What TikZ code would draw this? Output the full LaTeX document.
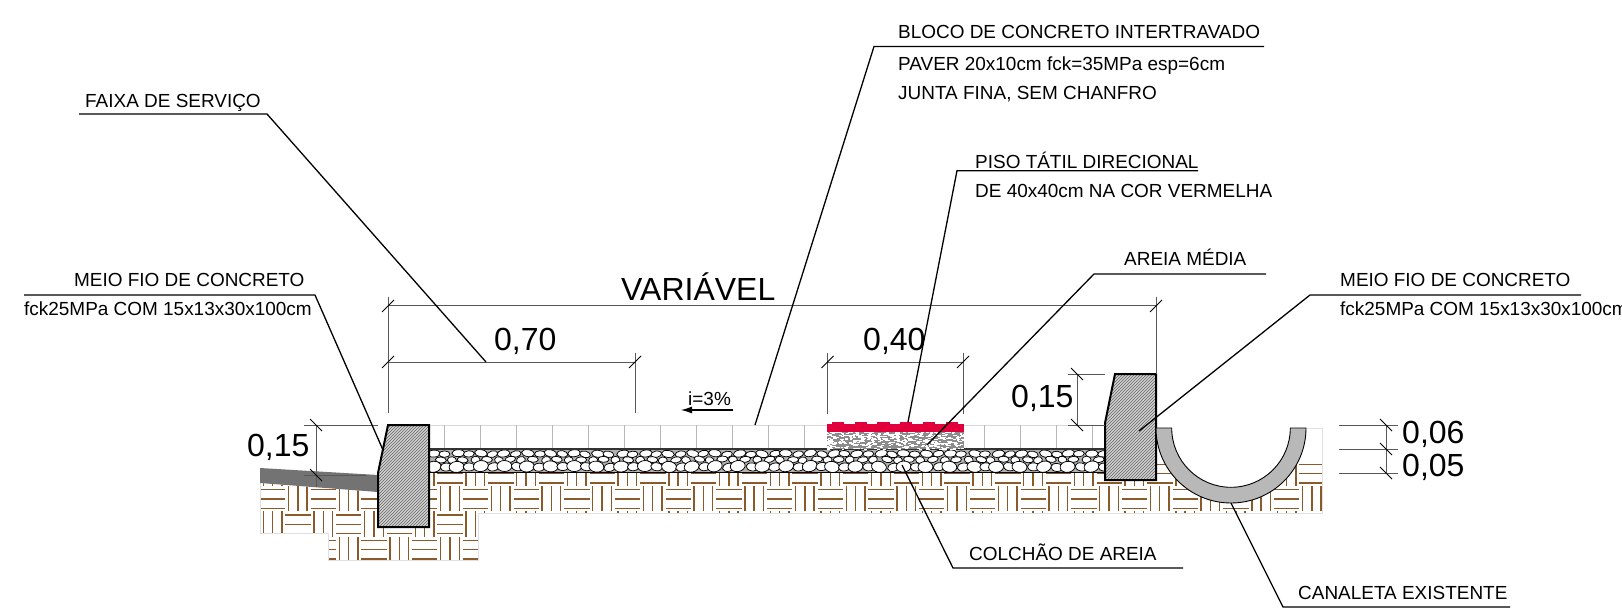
\documentclass[tikz,border=0pt]{standalone}
\usepackage{fontspec}
\setmainfont{Liberation Sans}
\usetikzlibrary{patterns,arrows.meta}
\definecolor{soilbrown}{RGB}{139,90,43}
\definecolor{tactilered}{RGB}{226,0,60}
\tikzset{
  label/.style = {anchor=base west,inner sep=0pt,font=\fontsize{18.95}{20}\selectfont},
  dimtext/.style = {anchor=base west,inner sep=0pt,font=\fontsize{32}{33}\selectfont},
  leader/.style = {line width=1.3pt,black},
  dimline/.style = {line width=1pt,black!65},
  kerb/.style = {draw=black,line width=2pt,pattern=north east lines,pattern color=black!60},
}
\begin{document}
\begin{tikzpicture}[x=1pt,y=-1pt]
  \pgfmathsetmacro{\unit}{25.35};
  \useasboundingbox (0,0) rectangle (1622,612);
  % soil
  \begin{scope}
    \clip (260,483) -- (378,492) -- (429,473) -- (1105,473) -- (1156,450) -- (1156,428) -- (1322,428) -- (1322,513) -- (478,513) -- (478,560) -- (328,560) -- (328,533) -- (260,533) -- cycle;
    \foreach \i in {0,...,42} {%
      \foreach \j in {-1,...,3} {%
        \pgfmathsetmacro{\ux}{260+\i*\unit}
        \pgfmathsetmacro{\uy}{486+\j*\unit}
        \pgfmathparse{int(mod(\i+\j+10,2))}
        \ifnum\pgfmathresult=0
          \foreach \k in {3.6,13,22.2} {%
            \draw[soilbrown,line width=1.4pt] (\ux,\uy+\k) -- ++(\unit,0);
          }
        \else
          \foreach \k in {3.2,12.5,21.8} {%
            \draw[soilbrown,line width=1.4pt] (\ux+\k,\uy) -- ++(0,\unit);
          }
        \fi
      }
    }
  \end{scope}
  \draw[black!12,line width=0.8pt] (260,483) -- (260,533) -- (328,533) -- (328,560) -- (478,560) -- (478,513) -- (1322,513) -- (1322,428) -- (1306,428);
  % road
  \fill[black!55] (260,468) -- (378,475) -- (378,492) -- (260,483) -- cycle;
  % pavers
  \draw[black!15,line width=0.8pt] (429,425) -- (1105,425);
  \foreach \m in {0,...,18} {%
    \draw[black!28,line width=0.8pt] ({444+36*\m},425) -- ++(0,23);
  }
  % pebbles
  \begin{scope}
    \clip (429,449) rectangle (1105,472);
    \fill[black!30] (429,449) rectangle (1105,472);
    \pgfmathsetseed{7}
    \foreach \m in {0,...,28} {%
      \pgfmathsetmacro{\px}{429+\m*23.5}
      \foreach \dx/\dy/\rx/\ry in {5/4.5/6.5/3.5,16/5/5.5/3.2,11/10.5/5.5/3,22/11/4.5/3.5,4/17.5/7.5/5.5,17/18/6/4} {%
        \pgfmathsetmacro{\qx}{\px+\dx+rand*1.2}
        \pgfmathsetmacro{\qy}{449+\dy+rand*0.5}
        \pgfmathsetmacro{\rot}{rand*15}
        \draw[black,fill=white,line width=0.75pt,rotate around={\rot:(\qx,\qy)}] (\qx,\qy) ellipse ({\rx} and {\ry});
      }
    }
  \end{scope}
  \draw[black!80,line width=1.2pt] (429,449) -- (1105,449);
  \draw[black,line width=1.1pt] (429,472.5) -- (1105,472.5);
  % sand
  \begin{scope}
    \clip (827,432) rectangle (964,449);
    \fill[black!45] (827,432) rectangle (964,449);
    \pgfmathsetseed{11}
    \foreach \m in {1,...,520} {%
      \pgfmathsetmacro{\sx}{825+140*rnd}
      \pgfmathsetmacro{\sy}{431+18*rnd}
      \fill[white] (\sx,\sy) rectangle ++(2.8,1.1);
    }
  \end{scope}
  % tactile
  \fill[tactilered] (827,424) rectangle (964,432);
  \foreach \m in {0,...,5} {%
    \fill[tactilered] ({832+\m*22.7},421.7) rectangle ++(12.3,4);
  }
  % kerbs
  \fill[black!18] (388,425) -- (429,425) -- (429,527) -- (378,527) -- (378,473) -- cycle;
  \draw[kerb] (388,425) -- (429,425) -- (429,527) -- (378,527) -- (378,473) -- cycle;
  \fill[black!18] (1115,374) -- (1156,374) -- (1156,480) -- (1105,480) -- (1105,423) -- cycle;
  \draw[kerb] (1115,374) -- (1156,374) -- (1156,480) -- (1105,480) -- (1105,423) -- cycle;
  % channel
  \fill[white] (1171.7,428) arc[start angle=180,end angle=0,radius=59.3] -- cycle;
  \draw[black,line width=0.9pt,fill=black!28] (1156,428) -- (1171.7,428) arc[start angle=180,end angle=0,radius=59.3] -- (1306,428) arc[start angle=0,end angle=180,radius=75] -- cycle;
  % dimensions
  \foreach \xa/\ya/\xb/\yb in {388/306/1156/306,388/362/635/362,827.5/362/963/362,316/425/316/487,1077/374/1077/425,1386/425/1386/473} {%
    \draw[dimline] (\xa,\ya) -- (\xb,\yb);
  }
  \foreach \xa/\ya/\xb/\yb in {388/297/388/413,1156/297/1156/374,635/353/635/413,827.5/353/827.5/414,963/353/963/414,304/425/378/425,304/475/367/475,1068/374/1105/374,1068/425/1105/425,1339/425/1398/425,1339/449/1398/449,1339/473/1398/473} {%
    \draw[dimline] (\xa,\ya) -- (\xb,\yb);
  }
  % ticks
  \foreach \tx/\ty in {388/306,1156/306,388/362,635/362,827.5/362,963/362} {%
    \draw[black,line width=0.8pt] (\tx-6,\ty+6) -- (\tx+6,\ty-6);
  }
  \foreach \tx/\ty in {316/425,316/475,1077/374,1077/425,1386/425,1386/449,1386/473} {%
    \draw[black,line width=0.8pt] (\tx-6,\ty-6) -- (\tx+6,\ty+6);
  }
  \node[dimtext] (varnode) at (621,301) {VARIÁVEL};
  \node[dimtext] (d070) at (494,350) {0,70};
  \node[dimtext] (d040) at (863,350) {0,40};
  \node[dimtext] (d015a) at (247,456.7) {0,15};
  \node[dimtext] (d015b) at (1011,407.5) {0,15};
  \node[dimtext] (d006) at (1402,443) {0,06};
  \node[dimtext] (d005) at (1402,476) {0,05};
  % slope
  \node[label] (slope) at (688,405) {i=3\%};
  \draw[-{Latex[length=11pt,width=7pt]},line width=1.2pt] (733,410) -- (681,410);
  % labels
  \node[label] (faixa) at (85,108) {FAIXA DE SERVIÇO};
  \node[label] (bloco) at (898,38.6) {BLOCO DE CONCRETO INTERTRAVADO};
  \node[label] (paver) at (898,71) {PAVER 20x10cm fck=35MPa esp=6cm};
  \node[label] (junta) at (898,99.7) {JUNTA FINA, SEM CHANFRO};
  \node[label] (piso) at (975,169) {PISO TÁTIL DIRECIONAL};
  \node[label] (piso2) at (975,198) {DE 40x40cm NA COR VERMELHA};
  \node[label] (areia) at (1124,266) {AREIA MÉDIA};
  \node[label] (meioa) at (74,287) {MEIO FIO DE CONCRETO};
  \node[label] (fcka) at (24,316) {fck25MPa COM 15x13x30x100cm};
  \node[label] (meiob) at (1340,287) {MEIO FIO DE CONCRETO};
  \node[label] (fckb) at (1340,316) {fck25MPa COM 15x13x30x100cm};
  \node[label] (colchao) at (969,560) {COLCHÃO DE AREIA};
  \node[label] (canaleta) at (1298,599.5) {CANALETA EXISTENTE};
  % leaders
  \draw[leader] (79,114) -- (267,114) -- (486,362);
  \draw[leader] (1264,46.5) -- (874,46.5) -- (755,425);
  \draw[leader] (1198,170.7) -- (957,170.7) -- (908,422);
  \draw[leader] (1266,274) -- (1094,274) -- (927,445);
  \draw[leader] (24,295) -- (315,295) -- (383,450);
  \draw[leader] (1581,295) -- (1310,295) -- (1139,431);
  \draw[leader] (1183,568) -- (953,568) -- (902,465);
  \draw[leader] (1510,607) -- (1283,607) -- (1231,503);
\end{tikzpicture}
\end{document}
